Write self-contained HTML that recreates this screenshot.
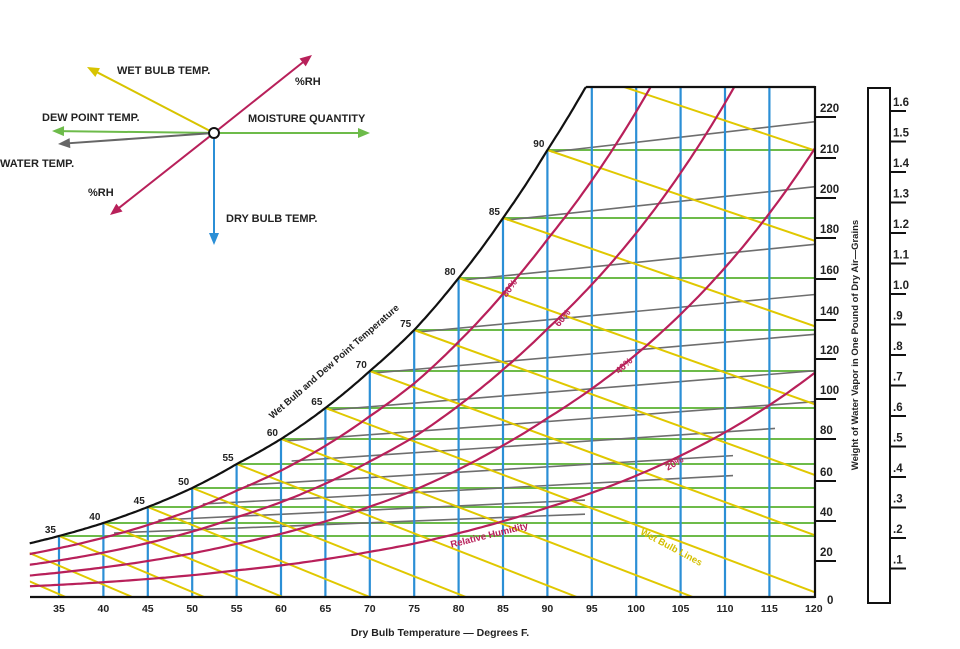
<!DOCTYPE html>
<html><head><meta charset="utf-8"><style>
html,body{margin:0;padding:0;background:#fff;width:960px;height:649px;overflow:hidden;}
svg{display:block;font-family:"Liberation Sans",Arial,sans-serif;font-weight:bold;}
</style></head><body>
<svg id="s" width="960" height="649" viewBox="0 0 960 649" xmlns="http://www.w3.org/2000/svg" overflow="hidden">
<defs>
<clipPath id="c"><path id="cp" d=""/></clipPath>
</defs>
<g id="grid" clip-path="url(#c)"></g>
<g id="top"></g>
</svg>
<script>
var NS="http://www.w3.org/2000/svg";
var svg=document.getElementById('s'),grid=document.getElementById('grid'),top_=document.getElementById('top');
function X(t){return 59+(t-35)*8.88;}
var satT=[35,40,45,50,55,60,65,70,75,80,85,90];
var satG=[61,74,90,109,133,158,189,226,267,319,379,447];
function gsat(t){
  if(t<=35) return 61*Math.pow(61/74,(35-t)/5);
  if(t>=90) return 447*Math.pow(1.165,(t-90)/5);
  var i=Math.floor((t-35)/5);var f=(t-satT[i])/5;
  return Math.exp(Math.log(satG[i])*(1-f)+Math.log(satG[i+1])*f);
}
function Y(g){return 597-g;}
function el(p,tag,a,txt){var e=document.createElementNS(NS,tag);for(var k in a)e.setAttribute(k,a[k]);if(txt!==undefined)e.textContent=txt;p.appendChild(e);return e;}
var sp=[];for(var t=31.7;t<=95;t+=0.25){var y=Y(gsat(t));if(y<87){break;}sp.push([X(t),y]);}
var tt=90;while(Y(gsat(tt))>87)tt+=0.05;var topX=X(tt);
sp.push([topX,87]);
var sd="M"+sp.map(function(p){return p[0].toFixed(1)+","+p[1].toFixed(1)}).join(" L");
document.getElementById('cp').setAttribute('d',sd+" L815,87 L815,597 L30,597 Z");
for(var i=0;i<satT.length;i++){var y=Y(satG[i]);el(grid,'line',{x1:X(satT[i]),y1:y,x2:815,y2:y,stroke:'#6dbb4a','stroke-width':2});}
for(var i=0;i<satT.length;i++){var t=satT[i];var y=Y(satG[i])+ (t<60?-3:2);var x1=X(t)+(t<60?55:4);
  var slope=0.04+0.075*(t-35)/55;var x2=t<45?585:(t<55?733:(t<60?775:815));
  el(grid,'line',{x1:x1,y1:y,x2:x2,y2:y-(x2-x1)*slope,stroke:'#6e6e6e','stroke-width':1.6});}
for(var t=35;t<=115;t+=5){var x=X(t);el(grid,'line',{x1:x,y1:Math.max(87,Y(gsat(t))),x2:x,y2:597,stroke:'#2b8fd6','stroke-width':2.2});}
for(var t=20;t<=110;t+=5){var x0=X(t),y0=Y(gsat(t));var s=0.42-0.08*(t-35)/55;if(s<0.3)s=0.3;
  var L=Math.min((597-y0)/s,816-x0);if(L<=0)continue;
  el(grid,'line',{x1:x0,y1:y0,x2:x0+L,y2:y0+L*s,stroke:'#e0c800','stroke-width':2});}
[0.8,0.6,0.4,0.2].forEach(function(f){var pts=[];for(var t=31;t<=121;t+=0.5){var y=Y(f*gsat(t));if(y<80)break;pts.push(X(t).toFixed(1)+","+y.toFixed(1));}
  el(grid,'path',{d:"M"+pts.join(" L"),fill:'none',stroke:'#b8205a','stroke-width':2.2});});
el(top_,'path',{d:sd,fill:'none',stroke:'#111','stroke-width':2.2});
el(top_,'line',{x1:topX,y1:87,x2:815,y2:87,stroke:'#111','stroke-width':2.2});
el(top_,'line',{x1:815,y1:86,x2:815,y2:598,stroke:'#111','stroke-width':2.2});
el(top_,'line',{x1:30,y1:597,x2:815,y2:597,stroke:'#111','stroke-width':2.2});
for(var t=35;t<=120;t+=5){el(top_,'text',{x:X(t),y:612,'font-size':10.5,'text-anchor':'middle',fill:'#222'},t);}
el(top_,'text',{x:440,y:636,'font-size':10.5,'text-anchor':'middle',fill:'#222'},"Dry Bulb Temperature \u2014 Degrees F.");
for(var i=0;i<satT.length;i++){var x=X(satT[i]),y=Y(satG[i]);el(top_,'text',{x:x-3,y:y-3,'font-size':10,'text-anchor':'end',fill:'#222'},satT[i]);}
el(top_,'text',{x:0,y:0,'font-size':9.5,'text-anchor':'middle',fill:'#222',transform:'translate(336,364) rotate(-41)'},"Wet Bulb and Dew Point Temperature");
var gl=[[220,108],[210,149],[200,189],[180,229],[160,270],[140,311],[120,350],[100,390],[80,430],[60,472],[40,512],[20,552],[0,600]];
gl.forEach(function(a){el(top_,'text',{x:a[0]==0?827:820,y:a[1]+4,'font-size':11.5,fill:'#222'},a[0]);if(a[0]>0)el(top_,'line',{x1:815,y1:a[1]+9,x2:836,y2:a[1]+9,stroke:'#111','stroke-width':2});});
el(top_,'text',{x:0,y:0,'font-size':9.5,'text-anchor':'middle',fill:'#222',transform:'translate(858,345) rotate(-90)'},"Weight of Water Vapor in One Pound of Dry Air\u2014Grains");
el(top_,'rect',{x:868,y:88,width:22,height:515,fill:'none',stroke:'#111','stroke-width':2});
var rl=["1.6","1.5","1.4","1.3","1.2","1.1","1.0",".9",".8",".7",".6",".5",".4",".3",".2",".1"];
rl.forEach(function(s,i){var y=103+i*30.5;el(top_,'text',{x:893,y:y+3,'font-size':11.5,fill:'#222'},s);el(top_,'line',{x1:890,y1:y+8,x2:906,y2:y+8,stroke:'#111','stroke-width':2});});
function rt(x,y,a,s,c,fs){el(top_,'text',{x:0,y:0,'font-size':fs||9.5,'text-anchor':'middle',fill:c,transform:'translate('+x+','+y+') rotate('+a+')'},s);}
rt(512,290,-55,"80%","#b8205a");rt(565,320,-50,"60%","#b8205a");rt(626,368,-42,"40%","#b8205a");rt(676,466,-30,"20%","#b8205a");
rt(490,538,-14,"Relative Humidity","#b8205a");rt(670,550,28,"Wet Bulb Lines","#d4bf00");
var d=top_;
function arrow(x2,y2,c){var x1=214,y1=133;var dx=x2-x1,dy=y2-y1,L=Math.sqrt(dx*dx+dy*dy),ux=dx/L,uy=dy/L;
  var sx=x1+ux*6,sy=y1+uy*6;el(d,'line',{x1:sx,y1:sy,x2:x2-ux*8,y2:y2-uy*8,stroke:c,'stroke-width':2});
  var bx=x2-ux*12,by=y2-uy*12,px=-uy*5,py=ux*5;
  el(d,'polygon',{points:x2+","+y2+" "+(bx+px)+","+(by+py)+" "+(bx-px)+","+(by-py),fill:c});}
arrow(87,67,'#d8c400');arrow(312,55,'#b8205a');arrow(110,215,'#b8205a');arrow(52,131,'#6dbb4a');arrow(370,133,'#6dbb4a');arrow(58,144,'#666');arrow(214,245,'#2b8fd6');
el(d,'circle',{cx:214,cy:133,r:5,fill:'#fff',stroke:'#111','stroke-width':2});
function t2(x,y,s){el(d,'text',{x:x,y:y,'font-size':11,fill:'#222'},s);}
t2(117,74,"WET BULB TEMP.");t2(295,85,"%RH");t2(42,121,"DEW POINT TEMP.");t2(248,122,"MOISTURE QUANTITY");t2(0,167,"WATER TEMP.");t2(88,196,"%RH");t2(226,222,"DRY BULB TEMP.");
</script>
</body></html>
